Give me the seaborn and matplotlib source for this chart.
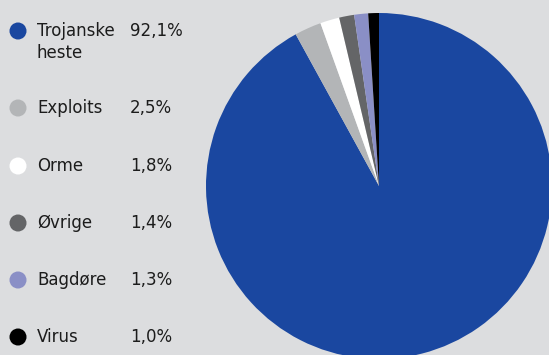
import matplotlib
matplotlib.use("Agg")
import matplotlib.pyplot as plt
import seaborn as sns
import pandas as pd

categories = ["Trojanske\nheste", "Exploits", "Orme", "Øvrige", "Bagdøre", "Virus"]
values = [92.1, 2.5, 1.8, 1.4, 1.3, 1.0]
pct_labels = ["92,1%", "2,5%", "1,8%", "1,4%", "1,3%", "1,0%"]
colors = ["#1a47a0", "#b3b5b7", "#ffffff", "#646567", "#8a8fc6", "#000000"]

sns.set_style("white")
plt.rcParams['font.family'] = ['DejaVu Sans']
bg = "#dcdddf"

fig = plt.figure(figsize=(5.49, 3.55), dpi=100)
fig.patch.set_facecolor(bg)

# pie axes
W, H = 549, 355
cx, cy, r = 379, 186, 173
ax = fig.add_axes([(cx - r) / W, (H - (cy + r)) / H, 2 * r / W, 2 * r / H])
ax.set_facecolor("none")
ax.pie(values, colors=colors, startangle=90, counterclock=False,
       radius=1, wedgeprops=dict(linewidth=0))
ax.set_xlim(-1, 1)
ax.set_ylim(-1, 1)
ax.axis("off")

# legend axes in pixel coordinates
lax = fig.add_axes([0, 0, 1, 1])
rows = [31, 108, 166, 223, 280, 337]
df = pd.DataFrame({"x": [18] * len(categories), "y": rows, "cat": categories})
sns.scatterplot(data=df, x="x", y="y", hue="cat", palette=colors, s=150,
                linewidth=0, legend=False, ax=lax, clip_on=False)
lax.set_xlim(0, W)
lax.set_ylim(H, 0)
lax.axis("off")
for y, cat, p in zip(rows, categories, pct_labels):
    lax.text(37, y - 9, cat, fontsize=12, color="#1c1c1c", va="top", ha="left",
             linespacing=1.3)
    lax.text(130, y - 9, p, fontsize=12, color="#1c1c1c", va="top", ha="left")

fig.savefig("out.png", dpi=100, facecolor=bg)
